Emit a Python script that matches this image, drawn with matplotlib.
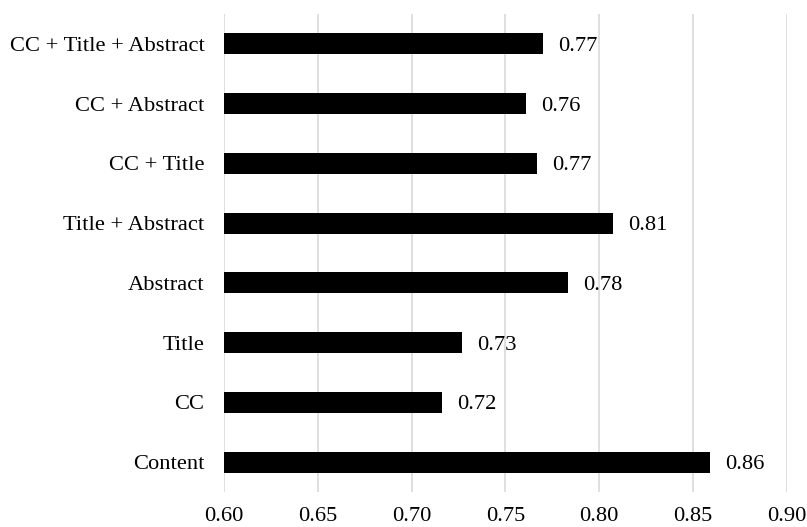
import matplotlib
matplotlib.use('Agg')
import matplotlib.pyplot as plt
import numpy as np

FONT = 16.2

categories = ['Content', 'CC', 'Title', 'Abstract', 'Title + Abstract',
              'CC + Title', 'CC + Abstract', 'CC + Title + Abstract']
scores = [0.859, 0.716, 0.727, 0.7835, 0.8073, 0.7668, 0.7612, 0.770]
score_labels = ['0.86', '0.72', '0.73', '0.78', '0.81', '0.77', '0.76', '0.77']
xticks = [0.60, 0.65, 0.70, 0.75, 0.80, 0.85, 0.90]
xtick_names = ['0.60', '0.65', '0.70', '0.75', '0.80', '0.85', '0.90']


def main():
  plt.rcParams['font.family'] = ['Liberation Serif', 'DejaVu Serif']
  fig = plt.figure(figsize=(8.07, 5.27), dpi=100)
  ax = fig.add_axes([0.2776, 0.0665, 0.697, 0.907])
  y = np.arange(len(categories))
  left = xticks[0]
  ax.barh(y, np.array(scores) - left, left=left, height=0.35,
          color='black', zorder=3)
  for yi, s, lab in zip(y, scores, score_labels):
    ax.annotate(lab, (s, yi), xytext=(11, 0), textcoords='offset points',
                va='center_baseline', ha='left', fontsize=FONT)
  ax.set_xlim(xticks[0], xticks[-1])
  ax.set_ylim(-0.5, len(categories) - 0.5)
  ax.set_xticks(xticks)
  ax.set_xticklabels(xtick_names, fontsize=FONT)
  ax.set_yticks(y)
  ax.set_yticklabels(categories, fontsize=FONT, va='center_baseline')
  ax.tick_params(axis='both', length=0)
  ax.tick_params(axis='y', pad=14)
  ax.tick_params(axis='x', pad=10.5)
  ax.grid(axis='x', color='#d9d9d9', linewidth=1.2, zorder=0)
  for sp in ax.spines.values():
    sp.set_visible(False)
  fig.savefig('out.png', dpi=100)


if __name__ == '__main__':
  main()
